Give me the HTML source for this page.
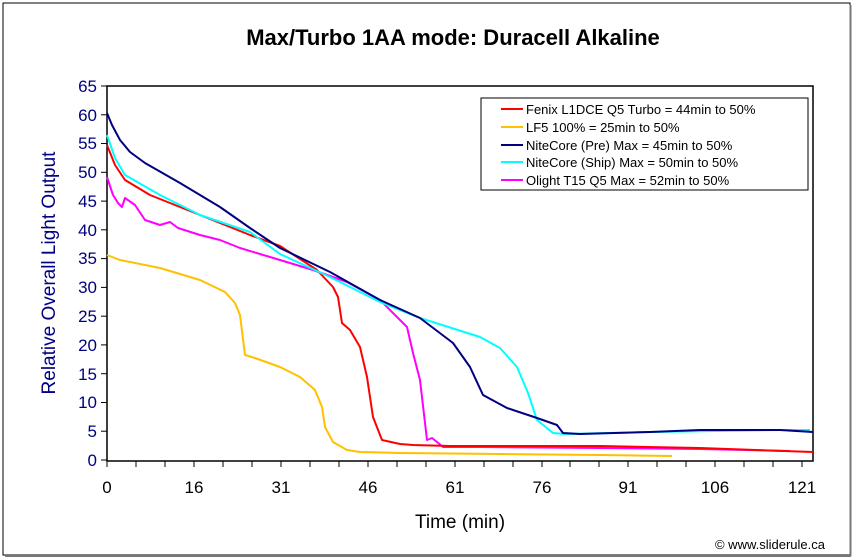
<!DOCTYPE html>
<html><head><meta charset="utf-8"><style>
body{margin:0;background:#fff;}
svg{display:block;font-family:"Liberation Sans",Arial,sans-serif;}
</style></head><body>
<svg width="855" height="560" viewBox="0 0 855 560">
<rect x="0" y="0" width="855" height="560" fill="#fff"/>
<rect x="3" y="3" width="847" height="552" fill="#fff" stroke="#000" stroke-width="1"/>
<line x1="850.5" y1="5" x2="850.5" y2="556" stroke="#777" stroke-width="2"/>
<line x1="5" y1="556" x2="851" y2="556" stroke="#777" stroke-width="2"/>
<text x="453" y="45" font-size="22" font-weight="bold" text-anchor="middle">Max/Turbo 1AA mode: Duracell Alkaline</text>
<rect x="107" y="86" width="706" height="375" fill="#fff" stroke="#000" stroke-width="1.5"/>
<g stroke="#000" stroke-width="1">
<line x1="101" y1="86" x2="107" y2="86"/><line x1="101" y1="114.8" x2="107" y2="114.8"/><line x1="101" y1="143.5" x2="107" y2="143.5"/><line x1="101" y1="172.3" x2="107" y2="172.3"/><line x1="101" y1="201.1" x2="107" y2="201.1"/><line x1="101" y1="229.8" x2="107" y2="229.8"/><line x1="101" y1="258.6" x2="107" y2="258.6"/><line x1="101" y1="287.4" x2="107" y2="287.4"/><line x1="101" y1="316.2" x2="107" y2="316.2"/><line x1="101" y1="344.9" x2="107" y2="344.9"/><line x1="101" y1="373.7" x2="107" y2="373.7"/><line x1="101" y1="402.5" x2="107" y2="402.5"/><line x1="101" y1="431.2" x2="107" y2="431.2"/><line x1="101" y1="460" x2="107" y2="460"/>
</g>
<g font-size="17" fill="#000080" text-anchor="end">
<text x="97" y="92">65</text><text x="97" y="121">60</text><text x="97" y="149">55</text><text x="97" y="178">50</text><text x="97" y="207">45</text><text x="97" y="236">40</text><text x="97" y="264">35</text><text x="97" y="293">30</text><text x="97" y="322">25</text><text x="97" y="351">20</text><text x="97" y="380">15</text><text x="97" y="408">10</text><text x="97" y="437">5</text><text x="97" y="466">0</text>
</g>
<g stroke="#000" stroke-width="1">
<line x1="107" y1="461" x2="107" y2="467"/><line x1="136" y1="461" x2="136" y2="467"/><line x1="165" y1="461" x2="165" y2="467"/><line x1="194" y1="461" x2="194" y2="467"/><line x1="223" y1="461" x2="223" y2="467"/><line x1="252" y1="461" x2="252" y2="467"/><line x1="281" y1="461" x2="281" y2="467"/><line x1="310" y1="461" x2="310" y2="467"/><line x1="339" y1="461" x2="339" y2="467"/><line x1="368" y1="461" x2="368" y2="467"/><line x1="397" y1="461" x2="397" y2="467"/><line x1="426" y1="461" x2="426" y2="467"/><line x1="455" y1="461" x2="455" y2="467"/><line x1="484" y1="461" x2="484" y2="467"/><line x1="513" y1="461" x2="513" y2="467"/><line x1="542" y1="461" x2="542" y2="467"/><line x1="570" y1="461" x2="570" y2="467"/><line x1="599" y1="461" x2="599" y2="467"/><line x1="628" y1="461" x2="628" y2="467"/><line x1="657" y1="461" x2="657" y2="467"/><line x1="686" y1="461" x2="686" y2="467"/><line x1="715" y1="461" x2="715" y2="467"/><line x1="744" y1="461" x2="744" y2="467"/><line x1="773" y1="461" x2="773" y2="467"/><line x1="802" y1="461" x2="802" y2="467"/>
</g>
<g font-size="17" fill="#000" text-anchor="middle">
<text x="107" y="493">0</text><text x="194" y="493">16</text><text x="281" y="493">31</text><text x="368" y="493">46</text><text x="455" y="493">61</text><text x="542" y="493">76</text><text x="628" y="493">91</text><text x="715" y="493">106</text><text x="802" y="493">121</text>
</g>
<text x="460" y="528" font-size="19" text-anchor="middle">Time (min)</text>
<text transform="translate(55,273) rotate(-90)" font-size="19" fill="#000080" text-anchor="middle">Relative Overall Light Output</text>
<text x="825" y="549" font-size="13" text-anchor="end">© www.sliderule.ca</text>
<g fill="none" stroke-width="2" stroke-linejoin="round">
<polyline stroke="#ffc000" points="107,255 120,260 160,268 200,280 225,292 235,303 240,315 245,355 255,358 280,367 300,377 315,390 322,407 325,427 333,442 347,450 360,452 400,453 500,454 600,455 672,456"/>
<polyline stroke="#ff00ff" points="107,177 113,195 118,203 122,207 125,198 135,205 145,220 160,225 170,222 178,228 200,235 220,240 240,248 280,260 313,270 347,282 380,300 407,327 413,353 420,380 427,440 432,438 437,442 443,447 480,447 600,448 700,449 790,451"/>
<polyline stroke="#ff0000" points="107,145 115,165 125,180 150,195 200,215 250,235 280,246 317,270 333,287 338,297 342,323 350,330 360,347 367,377 373,417 382,440 400,444 413,445 450,446 500,446 600,446 700,448 813,452"/>
<polyline stroke="#00ffff" points="107,135 115,158 125,175 160,195 200,215 250,232 280,254 330,277 380,302 420,318 480,337 500,348 517,367 528,393 537,420 553,433 565,434 650,432 780,430 810,430"/>
<polyline stroke="#000080" points="107,113 112,125 120,140 130,152 145,163 180,183 220,207 250,228 280,248 330,272 380,300 420,318 453,343 470,367 483,395 507,408 537,418 557,425 563,433 580,434 650,432 700,430 780,430 813,432"/>
</g>
<rect x="481" y="98" width="327" height="92" fill="#fff" stroke="#000" stroke-width="1"/>
<g stroke-width="2">
<line x1="501" y1="109" x2="523" y2="109" stroke="#ff0000"/>
<line x1="501" y1="127" x2="523" y2="127" stroke="#ffc000"/>
<line x1="501" y1="145" x2="523" y2="145" stroke="#000080"/>
<line x1="501" y1="162" x2="523" y2="162" stroke="#00ffff"/>
<line x1="501" y1="180" x2="523" y2="180" stroke="#ff00ff"/>
</g>
<g font-size="13" fill="#000">
<text x="526" y="114">Fenix L1DCE Q5 Turbo  = 44min to 50%</text>
<text x="526" y="132">LF5 100% = 25min to 50%</text>
<text x="526" y="150">NiteCore (Pre) Max = 45min to 50%</text>
<text x="526" y="167">NiteCore (Ship) Max = 50min to 50%</text>
<text x="526" y="185">Olight T15 Q5 Max = 52min to 50%</text>
</g>
</svg>
</body></html>
